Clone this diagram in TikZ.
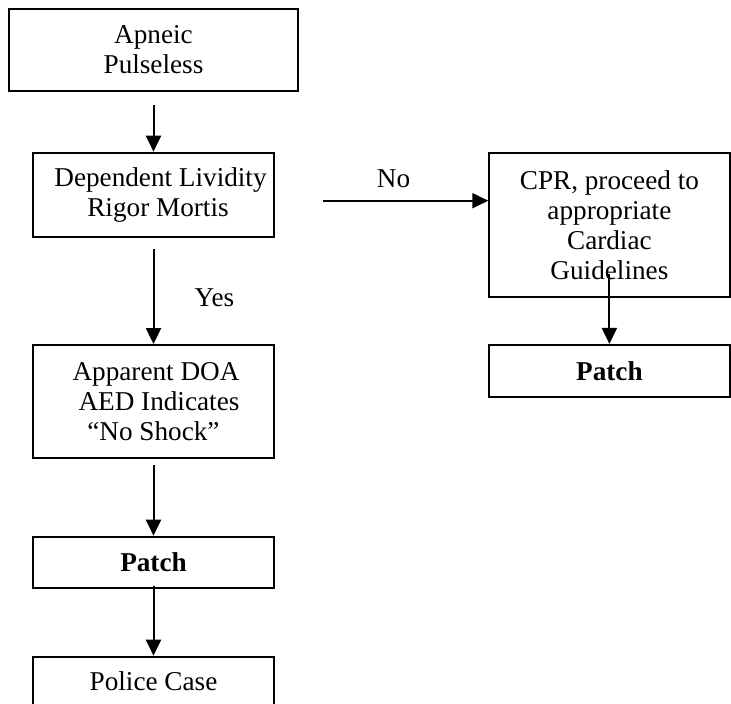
\documentclass[tikz,border=0pt]{standalone}
\usepackage{fontspec}
\setmainfont{Liberation Serif}
\usetikzlibrary{arrows.meta}
\begin{document}
\begin{tikzpicture}[x=1pt,y=1pt,
  box/.style={draw, line width=2pt, align=center, inner sep=0pt,
    font=\fontsize{27.2}{30}\selectfont},
  flow/.style={line width=2pt, -{Triangle[length=16pt,width=15pt]}},
  lbl/.style={anchor=base, inner sep=0pt, font=\fontsize{27.2}{30}\selectfont}]
\clip (0,0) rectangle (731,-704);

% left column
\node[box, minimum width=288.4pt, minimum height=81.4pt] (apneic) at (153.5,-50) {Apneic\\Pulseless};
\node[box, minimum width=241pt, minimum height=84pt] (lividity) at (153.5,-194.7)
  {\hspace*{14pt}Dependent Lividity\\\hspace*{9pt}Rigor Mortis};
\node[box, minimum width=241pt, minimum height=113.3pt] (doa) at (153.5,-401.7)
  {\hspace*{5pt}Apparent DOA\\\hspace*{11pt}AED Indicates\\“No Shock”};
\node[box, minimum width=241pt, minimum height=51.6pt] (patchL) at (153.5,-562.5) {\textbf{Patch}};
\node[box, minimum width=241pt, minimum height=49.4pt] (police) at (153.5,-681.4) {Police Case};

% right column
\node[box, minimum width=240.2pt, minimum height=144pt] (cpr) at (609.4,-224.7) {CPR, proceed to\\appropriate\\Cardiac\\Guidelines};
\node[box, minimum width=240.2pt, minimum height=51.7pt] (patchR) at (609.4,-370.8) {\textbf{Patch}};

% connectors
\draw[flow, shorten <=13pt] (apneic) -- (lividity);
\draw[flow, shorten <=11pt] (lividity) -- (doa);
\draw[flow, shorten <=6pt] (doa) -- (patchL);
\draw[flow, shorten <=-3pt] (patchL) -- (police);
\draw[flow, shorten <=-23.7pt] (cpr) -- (patchR);

\coordinate (nostart) at ([xshift=47.7pt,yshift=-6pt]lividity.east);
\coordinate (noend) at (nostart -| cpr.west);
\draw[flow] (nostart) -- (noend);

% branch labels
\node[lbl] (no) at (393.5,-187.3) {No};
\node[lbl] (yes) at (214.5,-306.7) {Yes};
\end{tikzpicture}
\end{document}
